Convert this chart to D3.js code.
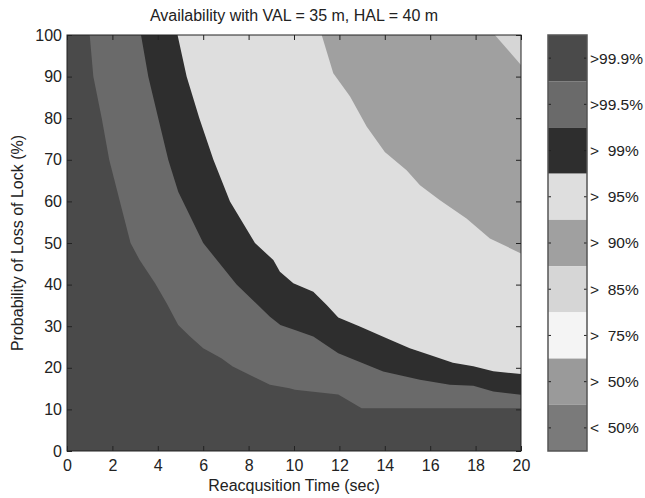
<!DOCTYPE html>
<html>
<head>
<meta charset="utf-8">
<script src="https://cdn.jsdelivr.net/npm/d3@7"></script>
<style>
  body { margin: 0; background: #fff; }
  text { font-family: "Liberation Sans", Arial, sans-serif; fill: #222; }
</style>
</head>
<body>
<div id="plot"></div>
<script>
// Tick labels
var xTicks = [0, 2, 4, 6, 8, 10, 12, 14, 16, 18, 20];
var yTicks = [0, 10, 20, 30, 40, 50, 60, 70, 80, 90, 100];

// Colour bar levels, top to bottom
var levels = [">99.9%", ">99.5%", ">  99%", ">  95%", ">  90%", ">  85%", ">  75%", ">  50%", "<  50%"];

// Contour boundaries [reacq time, prob of loss of lock].
// Each one runs from the top edge to the right edge; the area above it has the next level.
var edge999 = [[1.0,100],[1.16,90],[1.53,80],[1.86,70],[2.33,60],[2.8,50],[3.2,45.9],[3.88,40.3],[4.39,35.5],
  [4.9,30.3],[5.42,27.5],[6.0,24.7],[6.8,22.3],[7.3,20.3],[8.94,15.9],[9.8,15.1],[10.04,14.7],[11.95,13.6],
  [12.98,10.3],[20,10.3]];
var edge995 = [[3.26,100],[3.58,90],[4.02,80],[4.46,70],[4.9,62.3],[6.0,50],[7.47,40],[8.94,32.3],[9.4,30.3],
  [10.04,29.1],[10.85,27.5],[11.95,23.5],[13.93,19.1],[15.55,17.1],[16.87,15.9],[17.9,15.7],[18.78,14.3],[20,13.5]];
var edge99 = [[4.87,100],[5.27,90],[5.83,80],[6.45,70],[7.18,60],[8.28,50],[9.09,45.9],[9.38,43.1],[9.97,40.3],
  [10.85,38.3],[11.44,35.1],[11.95,32.1],[12.9,29.9],[14.08,27.1],[15.1,24.7],[15.99,23.1],[17.0,21.2],
  [17.9,20.4],[18.78,19.2],[20,18.5]];
var edge95 = [[11.22,100],[11.73,90.8],[12.47,85.2],[13.2,78.0],[14.0,71.9],[14.96,67.5],[15.55,63.9],
  [16.43,60.3],[17.6,55.9],[18.63,51.1],[20,47.5]];
var edge90 = [[18.85,100],[20,92.8]];

// Grey per level (same order as levels)
var greys = ["#4a4a4a", "#6a6a6a", "#2e2e2e", "#dedede", "#a0a0a0", "#d6d6d6", "#f4f4f4", "#9a9a9a", "#7a7a7a"];

var W = 645, H = 498;
var pL = 67, pR = 521, pT = 35, pB = 451;
var fs = 16;

var svg = d3.select("#plot").append("svg")
  .attr("width", W).attr("height", H);
svg.append("rect").attr("width", W).attr("height", H).attr("fill", "#fff");

var x = d3.scaleLinear().domain([0, 20]).range([pL, pR]);
var y = d3.scaleLinear().domain([0, 100]).range([pB, pT]);

// Filled contours: base level, then each region above a boundary
svg.append("rect")
  .attr("x", pL).attr("y", pT)
  .attr("width", pR - pL).attr("height", pB - pT)
  .attr("fill", greys[0]);

var line = d3.line().x(function(d){ return x(d[0]); }).y(function(d){ return y(d[1]); });
var layers = [edge999, edge995, edge99, edge95, edge90];
svg.append("g").selectAll("path")
  .data(layers)
  .enter().append("path")
    .attr("d", function(d){ return line(d.concat([[20, 100]])) + "Z"; })
    .attr("fill", function(d, i){ return greys[i + 1]; });

// Axes with inward ticks on all four sides
var tk = 5;
var gx = svg.append("g").attr("transform", "translate(0," + pB + ")")
  .call(d3.axisBottom(x).tickValues(xTicks).tickSizeInner(-tk).tickSizeOuter(0).tickPadding(9));
var gxt = svg.append("g").attr("transform", "translate(0," + pT + ")")
  .call(d3.axisTop(x).tickValues(xTicks).tickSizeInner(-tk).tickSizeOuter(0).tickFormat(""));
var gy = svg.append("g").attr("transform", "translate(" + pL + ",0)")
  .call(d3.axisLeft(y).tickValues(yTicks).tickSizeInner(-tk).tickSizeOuter(0).tickPadding(5));
var gyr = svg.append("g").attr("transform", "translate(" + pR + ",0)")
  .call(d3.axisRight(y).tickValues(yTicks).tickSizeInner(-tk).tickSizeOuter(0).tickFormat(""));

[gx, gxt, gy, gyr].forEach(function(g){
  g.select(".domain").remove();
  g.selectAll(".tick line").attr("stroke", "#222");
  g.selectAll("text").attr("font-size", fs).attr("font-family", null).style("fill", "#222");
});

svg.append("rect")
  .attr("x", pL).attr("y", pT)
  .attr("width", pR - pL).attr("height", pB - pT)
  .attr("fill", "none").attr("stroke", "#222").attr("stroke-width", 1);

// Title and axis labels
svg.append("text")
  .attr("x", (pL + pR) / 2).attr("y", 21)
  .attr("text-anchor", "middle").attr("font-size", fs)
  .text("Availability with VAL = 35 m, HAL = 40 m");
svg.append("text")
  .attr("x", (pL + pR) / 2).attr("y", 491)
  .attr("text-anchor", "middle").attr("font-size", fs)
  .text("Reacqusition Time (sec)");
svg.append("text")
  .attr("transform", "translate(23," + ((pT + pB) / 2) + ") rotate(-90)")
  .attr("text-anchor", "middle").attr("font-size", fs)
  .text("Probability of Loss of Lock (%)");

// Colour bar
var cbL = 548, cbR = 587;
var cb = d3.scaleBand().domain(levels).range([pT, pB]);
var cbar = svg.append("g");
cbar.selectAll("rect")
  .data(levels)
  .enter().append("rect")
    .attr("x", cbL).attr("y", function(d){ return cb(d); })
    .attr("width", cbR - cbL).attr("height", cb.bandwidth())
    .attr("fill", function(d, i){ return greys[i]; });
cbar.selectAll("line.l")
  .data(levels)
  .enter().append("line")
    .attr("x1", cbL).attr("x2", cbL + 3)
    .attr("y1", function(d){ return cb(d) + cb.bandwidth() / 2; })
    .attr("y2", function(d){ return cb(d) + cb.bandwidth() / 2; })
    .attr("stroke", "#222");
cbar.selectAll("line.r")
  .data(levels)
  .enter().append("line")
    .attr("x1", cbR - 3).attr("x2", cbR)
    .attr("y1", function(d){ return cb(d) + cb.bandwidth() / 2; })
    .attr("y2", function(d){ return cb(d) + cb.bandwidth() / 2; })
    .attr("stroke", "#222");
cbar.selectAll("text")
  .data(levels)
  .enter().append("text")
    .attr("x", cbR + 3)
    .attr("y", function(d){ return cb(d) + cb.bandwidth() / 2; })
    .attr("dy", "0.35em")
    .attr("font-size", 15.5)
    .style("white-space", "pre")
    .text(function(d){ return d; });
cbar.append("rect")
  .attr("x", cbL).attr("y", pT)
  .attr("width", cbR - cbL).attr("height", pB - pT)
  .attr("fill", "none").attr("stroke", "#555").attr("stroke-width", 1.5);
</script>
</body>
</html>
